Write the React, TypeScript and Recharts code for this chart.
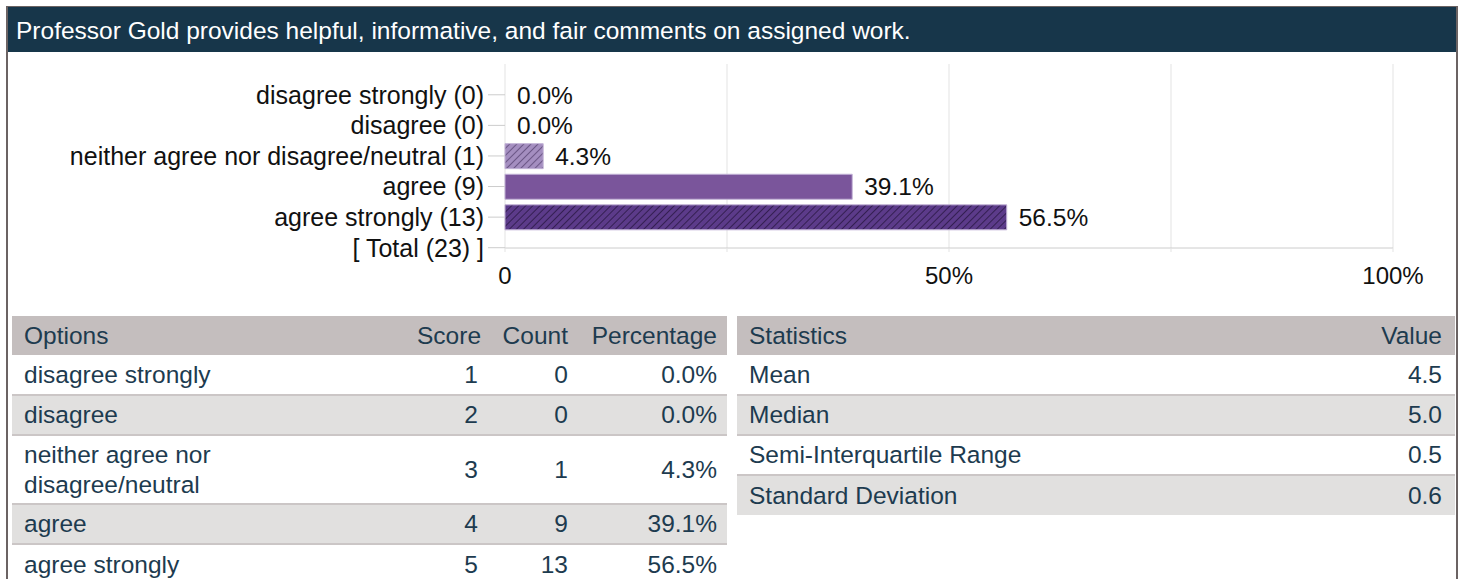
import { BarChart, Bar, XAxis, YAxis, CartesianGrid, Cell, LabelList } from "recharts";

const title = "Professor Gold provides helpful, informative, and fair comments on assigned work.";

// chart rows (top to bottom)
const categories = [
  "disagree strongly (0)",
  "disagree (0)",
  "neither agree nor disagree/neutral (1)",
  "agree (9)",
  "agree strongly (13)",
  "[ Total (23) ]",
];
const percents = [0, 0, 4.3, 39.1, 56.5, 0];
const barLabels = ["0.0%", "0.0%", "4.3%", "39.1%", "56.5%", ""];
const xTicks = [0, 25, 50, 75, 100];
const xTickLabels = ["0", "", "50%", "", "100%"];

// options table
const options = ["disagree strongly", "disagree", "neither agree nor disagree/neutral", "agree", "agree strongly"];
const scores = [1, 2, 3, 4, 5];
const counts = [0, 0, 1, 9, 13];
const pctText = ["0.0%", "0.0%", "4.3%", "39.1%", "56.5%"];

// statistics table
const statNames = ["Mean", "Median", "Semi-Interquartile Range", "Standard Deviation"];
const statValues = ["4.5", "5.0", "0.5", "0.6"];

const barFills = ["none", "none", "url(#hatchLight)", "#7a559b", "url(#hatchDark)", "none"];

const FONT = "'Liberation Sans', Arial, sans-serif";
const TEXT = "#1d3b4f";
const HEAD_BG = "#c4bebe";
const ALT_BG = "#e1e0df";
const LINE = "#cbc6c6";
const FS = 24.5;

const data = categories.map((name, i) => ({ name, value: percents[i], label: barLabels[i] }));

const cell = (extra: React.CSSProperties = {}): React.CSSProperties => ({
  padding: "0 10px 0 12px",
  whiteSpace: "nowrap",
  ...extra,
});

function OptionsTable() {
  const rows = options.map((o, i) => ({ o, s: scores[i], c: counts[i], p: pctText[i] }));
  return (
    <table
      style={{
        position: "absolute",
        left: 12,
        top: 316,
        width: 715,
        borderCollapse: "collapse",
        tableLayout: "fixed",
        fontFamily: FONT,
        fontSize: FS,
        color: TEXT,
      }}
    >
      <colgroup>
        <col style={{ width: 393 }} />
        <col style={{ width: 83 }} />
        <col style={{ width: 90 }} />
        <col style={{ width: 149 }} />
      </colgroup>
      <thead>
        <tr style={{ background: HEAD_BG, height: 39 }}>
          <th style={cell({ textAlign: "left", fontWeight: "normal" })}>Options</th>
          <th style={cell({ textAlign: "right", fontWeight: "normal" })}>Score</th>
          <th style={cell({ textAlign: "right", fontWeight: "normal" })}>Count</th>
          <th style={cell({ textAlign: "right", fontWeight: "normal" })}>Percentage</th>
        </tr>
      </thead>
      <tbody>
        {rows.map((r, i) => {
          const style: React.CSSProperties = {
            background: i % 2 === 1 ? ALT_BG : "#fff",
            height: i === 2 ? 69 : 40,
            borderTop: i === 0 ? "none" : `2px solid ${LINE}`,
          };
          return (
            <tr key={r.o} style={style}>
              <td style={cell({ textAlign: "left", lineHeight: "30px", whiteSpace: "normal", paddingRight: 140 })}>{r.o}</td>
              <td style={cell({ textAlign: "right" })}>{r.s}</td>
              <td style={cell({ textAlign: "right" })}>{r.c}</td>
              <td style={cell({ textAlign: "right" })}>{r.p}</td>
            </tr>
          );
        })}
      </tbody>
    </table>
  );
}

function StatsTable() {
  return (
    <table
      style={{
        position: "absolute",
        left: 737,
        top: 316,
        width: 718,
        borderCollapse: "collapse",
        tableLayout: "fixed",
        fontFamily: FONT,
        fontSize: FS,
        color: TEXT,
      }}
    >
      <thead>
        <tr style={{ background: HEAD_BG, height: 39 }}>
          <th style={cell({ textAlign: "left", fontWeight: "normal" })}>Statistics</th>
          <th style={cell({ textAlign: "right", fontWeight: "normal", paddingRight: 13 })}>Value</th>
        </tr>
      </thead>
      <tbody>
        {statNames.map((n, i) => (
          <tr
            key={n}
            style={{
              background: i % 2 === 1 ? ALT_BG : "#fff",
              height: 40,
              borderTop: i === 0 ? "none" : `2px solid ${LINE}`,
            }}
          >
            <td style={cell({ textAlign: "left" })}>{n}</td>
            <td style={cell({ textAlign: "right", paddingRight: 13 })}>{statValues[i]}</td>
          </tr>
        ))}
      </tbody>
    </table>
  );
}

export default function App() {
  return (
    <div
      style={{
        position: "absolute",
        left: 0,
        top: 0,
        width: 1465,
        height: 579,
        overflow: "hidden",
        background: "#fff",
        fontFamily: FONT,
      }}
    >
      {/* frame */}
      <div
        style={{
          position: "absolute",
          left: 6,
          top: 6,
          width: 1448,
          height: 600,
          borderTop: "1px solid #6b6363",
          borderLeft: "2px solid #6b6363",
          borderRight: "2px solid #6b6363",
        }}
      />
      <div
        style={{
          position: "absolute",
          left: 8,
          top: 7,
          width: 1448,
          height: 45,
          background: "#17364a",
          color: "#fff",
          fontSize: FS,
          lineHeight: "47px",
          paddingLeft: 8,
          boxSizing: "border-box",
          whiteSpace: "nowrap",
        }}
      >
        {title}
      </div>

      <div style={{ position: "absolute", left: 0, top: 52 }}>
        <BarChart
          layout="vertical"
          width={1465}
          height={250}
          data={data}
          margin={{ top: 12, right: 72, bottom: 14, left: 0 }}
          barSize={25}
        >
          <defs>
            <pattern id="hatchLight" width="5" height="5" patternUnits="userSpaceOnUse" patternTransform="rotate(45)">
              <rect width="5" height="5" fill="#a48ec0" />
              <line x1="0" y1="0" x2="0" y2="5" stroke="#4e3968" strokeWidth="1.3" />
            </pattern>
            <pattern id="hatchDark" width="5" height="5" patternUnits="userSpaceOnUse" patternTransform="rotate(45)">
              <rect width="5" height="5" fill="#5c3b8a" />
              <line x1="0" y1="0" x2="0" y2="5" stroke="#1e0f33" strokeWidth="1.3" />
            </pattern>
          </defs>
          <CartesianGrid horizontal={false} stroke="#e3e3e3" />
          <XAxis
            type="number"
            domain={[0, 100]}
            ticks={xTicks}
            tickFormatter={(_v: number, i: number) => xTickLabels[i]}
            height={40}
            axisLine={{ stroke: "#cccccc" }}
            tickLine={{ stroke: "#e3e3e3" }}
            tickSize={4}
            tickMargin={15}
            tick={{ fill: "#111", fontSize: 24, fontFamily: FONT }}
            interval={0}
          />
          <YAxis
            type="category"
            dataKey="name"
            width={505}
            padding={{ top: 15.5, bottom: -15 }}
            axisLine={false}
            tickLine={{ stroke: "#cccccc" }}
            tickSize={17}
            tickMargin={4}
            interval={0}
            tick={{ fill: "#111", fontSize: 25, fontFamily: FONT }}
          />
          <Bar dataKey="value" isAnimationActive={false} minPointSize={0.01}>
            {data.map((d, i) => (
              <Cell key={d.name} fill={barFills[i]} stroke={percents[i] > 0 ? "#c2b2d6" : "none"} />
            ))}
            <LabelList
              dataKey="label"
              position="right"
              offset={12}
              fill="#111"
              fontSize={24.5}
              fontFamily={FONT}
            />
          </Bar>
        </BarChart>
      </div>

      <OptionsTable />
      <StatsTable />
    </div>
  );
}
